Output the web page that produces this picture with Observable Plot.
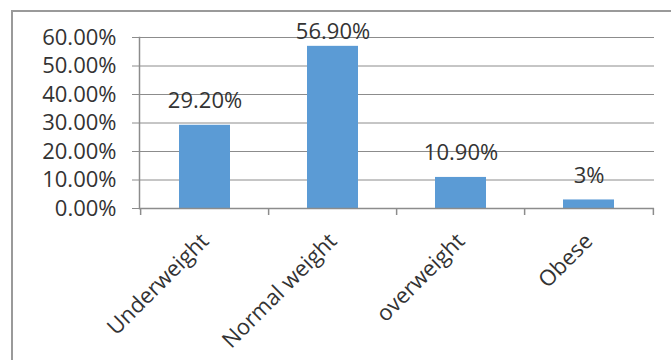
<!DOCTYPE html>
<html>
<head>
<meta charset="utf-8">
<script src="https://cdn.jsdelivr.net/npm/d3@7"></script>
<script src="https://cdn.jsdelivr.net/npm/@observablehq/plot@0.6"></script>
<style>
  html, body { margin: 0; padding: 0; background: #fff; }
  #wrap { position: relative; width: 671px; height: 360px; overflow: hidden; background: #fff; }
  #border { position: absolute; left: 11px; top: 10px; width: 700px; height: 400px;
            border: 2px solid #9a9a9a; box-sizing: border-box; z-index: 2; pointer-events: none; }
  #chart { position: absolute; left: 0; top: 0; z-index: 1; }
</style>
</head>
<body>
<div id="wrap"><div id="border"></div><div id="chart"></div></div>
<script>
const categories = ["Underweight", "Normal weight", "overweight", "Obese"];
const values = [29.2, 56.9, 10.9, 3];
const valueLabels = ["29.20%", "56.90%", "10.90%", "3%"];
const yTicks = [0, 10, 20, 30, 40, 50, 60];

const data = categories.map((c, i) => ({category: c, value: values[i], label: valueLabels[i]}));

const W = 671, H = 360, mL = 139, mR = 17, mT = 37, mB = 152;
const step = (W - mL - mR) / categories.length;
const plotH = H - mT - mB;
const grid = "#8c8c8c";
const txt = "#333333";

const chart = Plot.plot({
  width: W, height: H,
  marginLeft: mL, marginRight: mR, marginTop: mT, marginBottom: mB,
  style: {fontFamily: "'Open Sans', sans-serif", fontSize: "22px", color: txt, background: "transparent", overflow: "visible"},
  x: {type: "band", domain: categories, paddingInner: 0.6, paddingOuter: 0.3, axis: null},
  y: {domain: [0, 60], axis: null},
  marks: [
    Plot.gridY(yTicks, {stroke: grid, strokeOpacity: 1, strokeWidth: 1}),
    Plot.axisY(yTicks, {label: null, tickFormat: d => d.toFixed(2) + "%", tickSize: 7, tickPadding: 16, stroke: grid, strokeOpacity: 1, fill: txt, fontSize: 22}),
    Plot.barY(data, {x: "category", y: "value", fill: "#5b9bd5"}),
    Plot.ruleY([0], {stroke: grid, strokeWidth: 1.5}),
    Plot.frame({anchor: "left", stroke: grid, strokeWidth: 1.5}),
    Plot.ruleX(categories, {x: d => d, dx: -step / 2, insetTop: plotH, insetBottom: -7, stroke: grid, strokeWidth: 1.5}),
    Plot.ruleX(categories.slice(-1), {x: d => d, dx: step / 2, insetTop: plotH, insetBottom: -7, stroke: grid, strokeWidth: 1.5}),
    Plot.text(data, {x: "category", y: d => Math.min(d.value + 6.1, 59.6), text: "label", lineAnchor: "bottom", fill: txt, fontSize: 22}),
    Plot.text(categories, {x: d => d, frameAnchor: "bottom", text: d => d, rotate: -45, textAnchor: "end", lineAnchor: "bottom", dx: 5, dy: 34, fill: txt, fontSize: 22})
  ]
});
document.getElementById("chart").appendChild(chart);
</script>
</body>
</html>
